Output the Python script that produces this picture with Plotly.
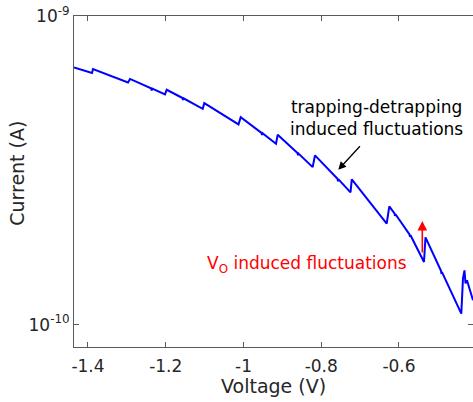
import plotly.graph_objects as go

# Voltage (V) and current (A)
voltage = [-1.436, -1.3897, -1.3871, -1.2971, -1.2919, -1.2379, -1.2361, -1.2346,
           -1.2019, -1.1975, -1.1569, -1.1556, -1.1543, -1.1049, -1.1008, -1.0128,
           -1.0072, -0.9537, -0.9524, -0.9511, -0.9164, -0.9120, -0.8611, -0.8598,
           -0.8585, -0.8220, -0.8161, -0.7582, -0.7569, -0.7556, -0.7247, -0.7214,
           -0.6316, -0.6249, -0.6116, -0.6103, -0.6090, -0.5730, -0.5717, -0.5704,
           -0.5357, -0.5318, -0.4919, -0.4907, -0.4894, -0.4397, -0.4354, -0.4315,
           -0.4289, -0.4251, -0.4096]
current_e10 = [6.810, 6.536, 6.735, 6.091, 6.252, 5.831, 5.738, 5.818,
               5.569, 5.768, 5.422, 5.342, 5.411, 5.005, 5.220, 4.452,
               4.701, 4.181, 4.117, 4.169, 3.856, 4.124, 3.597, 3.539,
               3.584, 3.239, 3.534, 2.969, 2.916, 2.956, 2.682, 2.955,
               2.124, 2.416, 2.293, 2.251, 2.279, 1.961, 1.925, 1.949,
               1.595, 1.918, 1.493, 1.460, 1.479, 1.085, 1.412, 1.499,
               1.360, 1.392, 1.199]
current = [c * 1e-10 for c in current_e10]

x_ticks = [-1.4, -1.2, -1.0, -0.8, -0.6]
x_tick_labels = ["-1.4", "-1.2", "-1", "-0.8", "-0.6"]
y_ticks = [1e-10, 1e-9]
y_tick_labels = ["10<sup>-10</sup>", "10<sup>-9</sup>"]

x_range = [-1.436, -0.4096]
y_range_log = [-10.0725, -9.0]

FONT = "DejaVu Sans"
TXT = "#262626"
AX = "#5a5a5a"

fig = go.Figure()
fig.add_trace(go.Scatter(x=voltage, y=current, mode="lines",
                         line=dict(color="#0000ff", width=2),
                         showlegend=False, hoverinfo="skip"))
fig.add_trace(go.Scatter(x=[], y=[], xaxis="x2", yaxis="y2", showlegend=False))

fig.update_layout(
    width=473, height=402,
    margin=dict(l=74, r=0, t=16, b=55, autoexpand=False),
    paper_bgcolor="white", plot_bgcolor="white",
    font=dict(family=FONT, color=TXT, size=17),
    xaxis=dict(range=x_range, tickvals=x_ticks, ticktext=x_tick_labels,
               ticks="inside", ticklen=5, tickcolor=AX, showline=True,
               linecolor=AX, linewidth=1, showgrid=False, zeroline=False,
               automargin=False,
               tickfont=dict(size=17, color=TXT), ticklabelstandoff=4),
    yaxis=dict(type="log", range=y_range_log, tickvals=y_ticks,
               ticktext=y_tick_labels, ticks="inside", ticklen=5,
               tickcolor=AX, showline=True, linecolor=AX, linewidth=1,
               showgrid=False, zeroline=False, automargin=False,
               tickfont=dict(size=17, color=TXT)),
    xaxis2=dict(range=x_range, overlaying="x", side="top", tickvals=x_ticks,
                ticks="inside", ticklen=5, tickcolor=AX, showline=True,
                linecolor=AX, linewidth=1, showticklabels=False,
                showgrid=False, zeroline=False, automargin=False),
    yaxis2=dict(type="log", range=y_range_log, overlaying="y", side="right",
                tickvals=y_ticks, ticks="inside", ticklen=5, tickcolor=AX,
                showline=False, showticklabels=False, showgrid=False,
                zeroline=False, automargin=False),
)

# axis titles
fig.add_annotation(text="Voltage (V)", xref="paper", yref="paper",
                   x=0.5, y=-0.118, xanchor="center", yanchor="middle",
                   showarrow=False, font=dict(size=19, color=TXT))
fig.add_annotation(text="Current (A)", xref="paper", yref="paper",
                   x=-0.1416, y=0.5248, xanchor="center", yanchor="middle",
                   textangle=-90, showarrow=False,
                   font=dict(size=19, color=TXT))

# text annotations
fig.add_annotation(text="trapping-detrapping<br>induced fluctuations",
                   x=-0.6566, y=-9.3319, xanchor="center", yanchor="middle",
                   showarrow=False, font=dict(size=17, color="black"))
fig.add_annotation(text="V<sub>O</sub> induced fluctuations",
                   x=-0.8366, y=-9.8047, xanchor="center", yanchor="middle",
                   showarrow=False, font=dict(size=17, color="#ff0000"))

# arrows
fig.add_annotation(text="", x=-0.7561, y=-9.4981, ax=23, ay=-25,
                   showarrow=True, arrowhead=2, arrowsize=1.2, arrowwidth=1.3,
                   arrowcolor="black")
fig.add_annotation(text="", x=-0.5400, y=-9.6639, ax=0, ay=33,
                   showarrow=True, arrowhead=2, arrowsize=1.2, arrowwidth=1.6,
                   arrowcolor="#ff0000")

fig.write_html("out.html",
               config={"displayModeBar": False, "staticPlot": True},
               post_script="document.body.style.margin='0';"
                           "document.body.style.overflow='hidden';")
